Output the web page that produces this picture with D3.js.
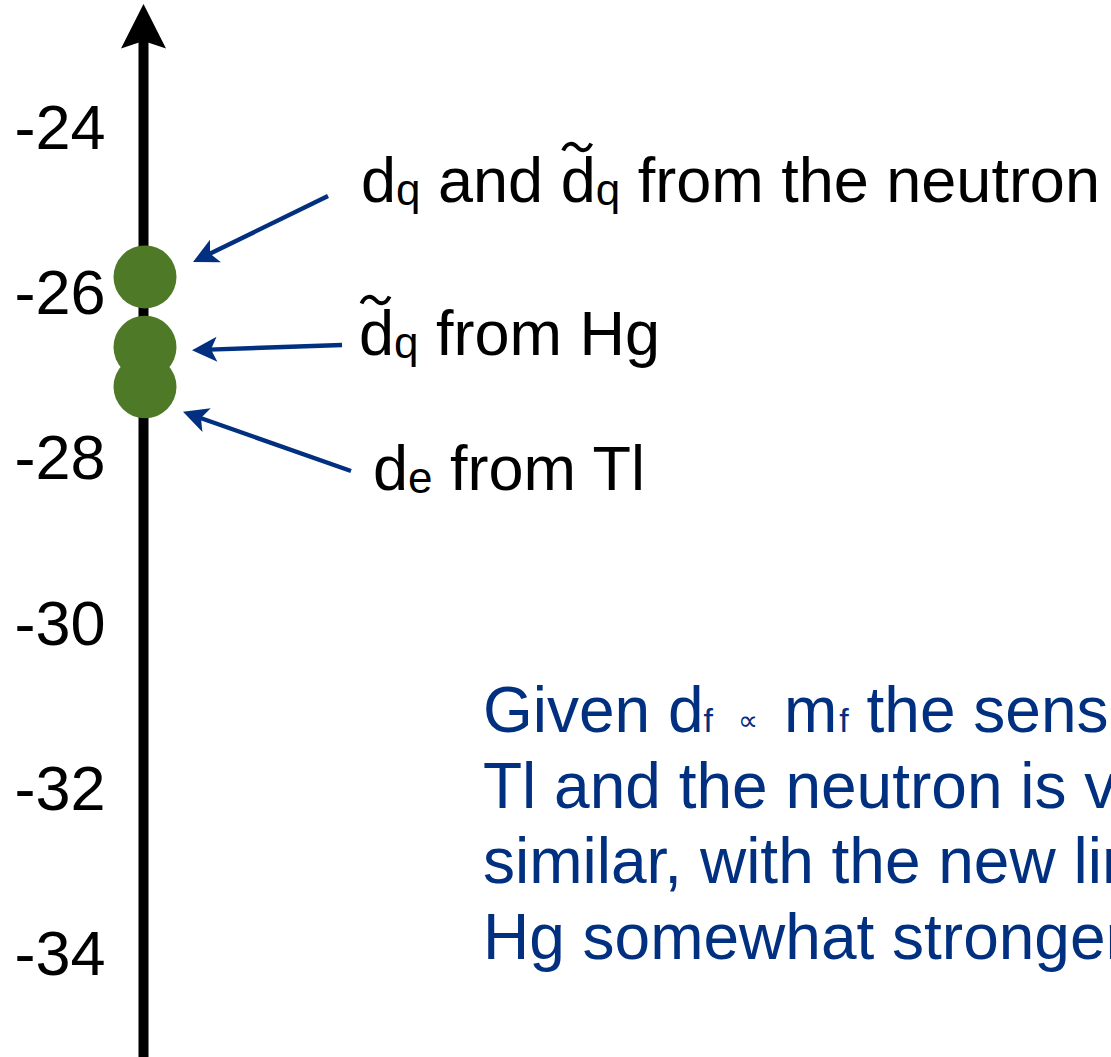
<!DOCTYPE html>
<html>
<head>
<meta charset="utf-8">
<script src="https://cdn.jsdelivr.net/npm/d3@7"></script>
<style>
  html, body { margin: 0; padding: 0; background: #fff; overflow: hidden; }
  svg { display: block; }
  text { font-family: "Liberation Sans", Arial, sans-serif; }
</style>
</head>
<body>
<script>
// Axis ticks (log10 of EDM limit)
const tickValues = [-24, -26, -28, -30, -32, -34];

// Limits, one per system
const limitNames = ["neutron", "Hg", "Tl"];
const limitValues = [-25.80, -26.65, -27.13];

// Label pieces for each limit: plain text, subscripts, tilde-accented letters
const limitLabels = [
  [{ t: "d" }, { t: "q", sub: true }, { t: " and " }, { t: "d", tilde: true }, { t: "q", sub: true }, { t: " from the neutron" }],
  [{ t: "d", tilde: true }, { t: "q", sub: true }, { t: " from Hg" }],
  [{ t: "d" }, { t: "e", sub: true }, { t: " from Tl" }]
];

// Note beneath the limits
const noteLines = [
  [{ t: "Given d" }, { t: "f", sub: true }, { t: "\u221D", sym: true }, { t: "m", after: true }, { t: "f", sub: true, gap: true }, { t: " the sensitivity of" }],
  [{ t: "Tl and the neutron is very" }],
  [{ t: "similar, with the new limit from" }],
  [{ t: "Hg somewhat stronger" }]
];

const W = 1111, H = 1057;
const axisX = 143.5;
const ink = "#000";
const blue = "#00307f";
const green = "#4e7a28";

const svg = d3.select("body").append("svg")
  .attr("width", W).attr("height", H);

const y = d3.scaleLinear().domain([-24, -34]).range([128.3, 954.2]);

// vertical axis with arrow head
svg.append("line")
  .attr("x1", axisX).attr("x2", axisX)
  .attr("y1", 40).attr("y2", H + 5)
  .attr("stroke", ink).attr("stroke-width", 10);
svg.append("path")
  .attr("d", `M${axisX},4 L${axisX + 22.5},48.5 L${axisX},41 L${axisX - 22.5},48.5 Z`)
  .attr("fill", ink);

const axis = d3.axisLeft(y)
  .tickValues(tickValues)
  .tickFormat(d => String(d))
  .tickSize(0)
  .tickPadding(38);
const gAxis = svg.append("g")
  .attr("transform", `translate(${axisX},0)`)
  .call(axis);
gAxis.select(".domain").remove();
gAxis.selectAll("text")
  .attr("font-family", "'Liberation Sans', Arial, sans-serif")
  .attr("font-size", 63)
  .attr("fill", ink);

// limit points
const dotX = axisX + 1.5;
svg.selectAll("circle.limit")
  .data(limitValues)
  .join("circle")
  .attr("class", "limit")
  .attr("cx", dotX)
  .attr("cy", d => y(d))
  .attr("r", 31.5)
  .attr("fill", green);

// label anchors and arrow geometry (relative to each point)
const labelPos = [
  { x: 361, y: 202, tail: [328, 196], tip: [48, -15] },
  { x: 359, y: 355, tail: [342, 345], tip: [47, 3] },
  { x: 373, y: 490, tail: [351, 471], tip: [38, 25] }
];

function arrow(x0, y0, x1, y1) {
  const a = Math.atan2(y1 - y0, x1 - x0);
  const headLen = 25, headHalf = 12.5, notch = 19;
  const lx = x1 - Math.cos(a) * (notch - 2), ly = y1 - Math.sin(a) * (notch - 2);
  svg.append("line")
    .attr("x1", x0).attr("y1", y0).attr("x2", lx).attr("y2", ly)
    .attr("stroke", blue).attr("stroke-width", 4.4);
  svg.append("path")
    .attr("d", `M0,0 L${-headLen},${-headHalf} L${-notch},0 L${-headLen},${headHalf} Z`)
    .attr("transform", `translate(${x1},${y1}) rotate(${a * 180 / Math.PI})`)
    .attr("fill", blue);
}

limitValues.forEach((v, i) => {
  const p = labelPos[i];
  arrow(p.tail[0], p.tail[1], dotX + p.tip[0], y(v) + p.tip[1]);
});

// labels with subscripts; tilde accents drawn as strokes over the letter
limitLabels.forEach((parts, i) => {
  const p = labelPos[i];
  const txt = svg.append("text")
    .attr("x", p.x).attr("y", p.y)
    .attr("font-size", 63).attr("fill", ink);
  let idx = 0, shifted = false;
  const tildeIdx = [];
  parts.forEach(part => {
    const ts = txt.append("tspan").text(part.t);
    if (part.sub) {
      ts.attr("font-size", 44).attr("dy", 3);
      shifted = true;
    } else if (shifted) {
      ts.attr("dy", -3);
      shifted = false;
    }
    if (part.tilde) tildeIdx.push(idx);
    idx += part.t.length;
  });
  const node = txt.node();
  tildeIdx.forEach(ci => {
    const s = node.getStartPositionOfChar(ci).x;
    const e = node.getEndPositionOfChar(ci).x;
    const cx = (s + e) / 2 - 1, cy = p.y - 55;
    svg.append("path")
      .attr("d", `M${cx - 14},${cy + 3.5} C${cx - 10},${cy - 5} ${cx - 4},${cy - 4.5} ${cx},${cy} S${cx + 10},${cy + 5} ${cx + 14},${cy - 3.5}`)
      .attr("fill", "none")
      .attr("stroke", ink)
      .attr("stroke-width", 4);
  });
});

// note
const noteSize = 64;
const note = svg.append("text")
  .attr("x", 483).attr("y", 732)
  .attr("font-size", noteSize).attr("fill", blue);
noteLines.forEach((parts, li) => {
  parts.forEach((part, pi) => {
    const ts = note.append("tspan").text(part.t);
    if (pi === 0) ts.attr("x", 483).attr("dy", li === 0 ? 0 : 75.7);
    if (part.sub) ts.attr("font-size", 34);
    if (part.gap) ts.attr("dx", 2);
    if (part.sym) ts.attr("font-size", 28).attr("dx", 25).attr("dy", -2);
    if (part.after) ts.attr("dx", 26).attr("dy", 2);
  });
  if (li === 0) note.append("tspan").attr("dx", 3).text("");
});
</script>
</body>
</html>
